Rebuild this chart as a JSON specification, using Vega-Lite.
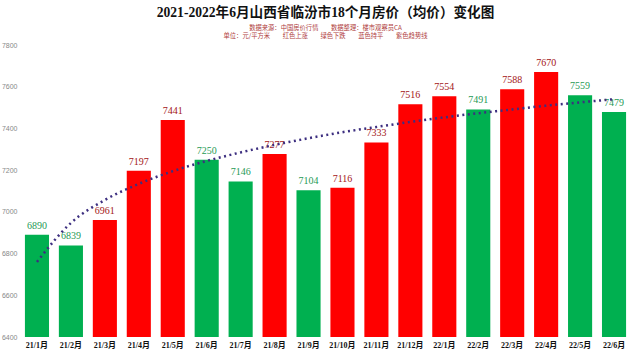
{
  "$schema": "https://vega.github.io/schema/vega-lite/v6.json",
  "width": 611,
  "height": 292,
  "autosize": {"type": "none"},
  "padding": {"left": 20, "top": 45, "right": 9, "bottom": 16},
  "background": "white",
  "title": {
    "text": "2021-2022年6月山西省临汾市18个月房价（均价）变化图",
    "subtitle": ["数据来源：中国房价行情　　数据整理：楼市观察员CA", "单位：元/平方米　　红色上涨　　绿色下跌　　蓝色持平　　紫色趋势线"],
    "anchor": "middle",
    "font": "Liberation Serif, Noto Sans CJK SC",
    "fontSize": 13.6,
    "fontWeight": "bold",
    "color": "#111111",
    "subtitleFont": "Noto Sans CJK SC",
    "subtitleFontSize": 6.3,
    "subtitleColor": "#b04040",
    "subtitleLineHeight": 8,
    "subtitlePadding": 5,
    "offset": 2
  },
  "data": {
    "values": [
      {"month": "21/1月", "price": 6890, "trend": 6760, "dir": "down"},
      {"month": "21/2月", "price": 6839, "trend": 6947, "dir": "down"},
      {"month": "21/3月", "price": 6961, "trend": 7057, "dir": "up"},
      {"month": "21/4月", "price": 7197, "trend": 7134, "dir": "up"},
      {"month": "21/5月", "price": 7441, "trend": 7195, "dir": "up"},
      {"month": "21/6月", "price": 7250, "trend": 7244, "dir": "down"},
      {"month": "21/7月", "price": 7146, "trend": 7285, "dir": "down"},
      {"month": "21/8月", "price": 7277, "trend": 7321, "dir": "up"},
      {"month": "21/9月", "price": 7104, "trend": 7353, "dir": "down"},
      {"month": "21/10月", "price": 7116, "trend": 7382, "dir": "up"},
      {"month": "21/11月", "price": 7333, "trend": 7407, "dir": "up"},
      {"month": "21/12月", "price": 7516, "trend": 7431, "dir": "up"},
      {"month": "22/1月", "price": 7554, "trend": 7453, "dir": "up"},
      {"month": "22/2月", "price": 7491, "trend": 7473, "dir": "down"},
      {"month": "22/3月", "price": 7588, "trend": 7491, "dir": "up"},
      {"month": "22/4月", "price": 7670, "trend": 7509, "dir": "up"},
      {"month": "22/5月", "price": 7559, "trend": 7525, "dir": "down"},
      {"month": "22/6月", "price": 7479, "trend": 7540, "dir": "down"}
    ]
  },
  "encoding": {
    "x": {
      "field": "month",
      "type": "ordinal",
      "sort": null,
      "scale": {"paddingInner": 0.29, "paddingOuter": 0.145},
      "axis": {
        "title": null,
        "labelAngle": 0,
        "labelFont": "Liberation Serif, Noto Sans CJK SC",
        "labelFontSize": 8,
        "labelFontWeight": "bold",
        "labelColor": "#111111",
        "ticks": false,
        "domain": false,
        "labelPadding": 4
      }
    }
  },
  "layer": [
    {
      "mark": {"type": "bar"},
      "encoding": {
        "y": {
          "field": "price",
          "type": "quantitative",
          "scale": {"domain": [6400, 7800], "nice": false, "zero": false},
          "axis": {
            "title": null,
            "values": [6400, 6600, 6800, 7000, 7200, 7400, 7600, 7800],
            "format": "d",
            "grid": false,
            "ticks": false,
            "domain": false,
            "labelFontSize": 7,
            "labelColor": "#888888",
            "labelFont": "Liberation Sans",
            "labelPadding": 3
          }
        },
        "y2": {"datum": 6400},
        "color": {
          "field": "dir",
          "type": "nominal",
          "scale": {"domain": ["up", "down"], "range": ["#ff0000", "#00b050"]},
          "legend": null
        }
      }
    },
    {
      "mark": {"type": "text", "baseline": "bottom", "dy": -4, "font": "Liberation Serif", "fontSize": 10},
      "encoding": {
        "y": {"field": "price", "type": "quantitative"},
        "text": {"field": "price", "type": "quantitative", "format": "d"},
        "color": {
          "field": "dir",
          "type": "nominal",
          "scale": {"domain": ["up", "down"], "range": ["#a31515", "#1f9a55"]},
          "legend": null
        }
      }
    },
    {
      "mark": {"type": "line", "strokeDash": [2, 3.5], "strokeWidth": 2.5, "color": "#3d2f80", "interpolate": "monotone"},
      "encoding": {
        "y": {"field": "trend", "type": "quantitative"}
      }
    }
  ],
  "resolve": {"scale": {"color": "independent"}},
  "config": {"view": {"stroke": null}}
}
